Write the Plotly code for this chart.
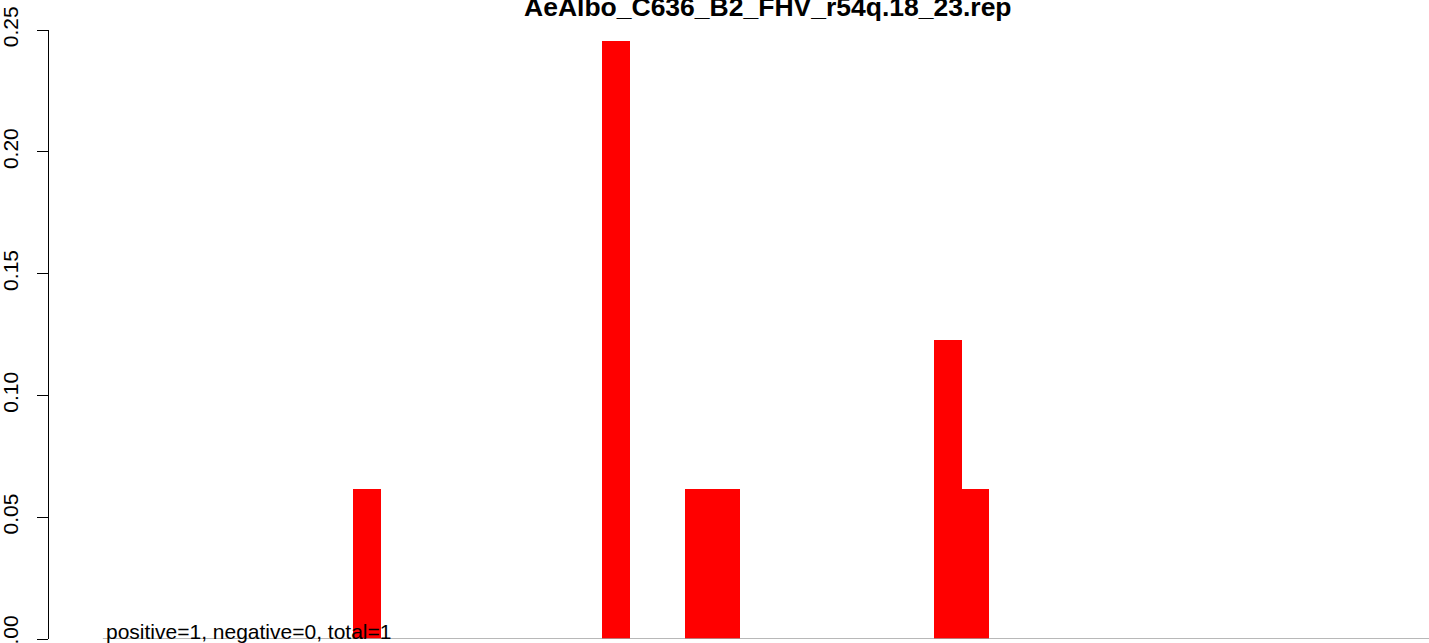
import plotly.graph_objects as go

# bar slots (0-based position along x) and their fractions
positions = [10, 19, 22, 23, 31, 32]
fractions = [0.0615, 0.2455, 0.0615, 0.0615, 0.1227, 0.0615]

title_text = "AeAlbo_C636_B2_FHV_r54q.18_23.rep"
note_text = "positive=1, negative=0, total=1"
y_ticks = [0, 0.05, 0.10, 0.15, 0.20, 0.25]
y_labels = ["0.00", "0.05", "0.10", "0.15", "0.20", "0.25"]

fig = go.Figure()
fig.add_trace(go.Bar(
    x=positions,
    y=fractions,
    width=1,
    marker=dict(color="#ff0000", line=dict(width=0)),
    showlegend=False,
))

# grey baseline under the bars
fig.add_shape(type="line", xref="paper", yref="y",
              x0=0.039, x1=1, y0=0, y1=0,
              line=dict(color="#a0a0a0", width=1.5), layer="above")

fig.add_annotation(text=note_text, xref="paper", yref="y",
                   x=0.0399, y=0, xanchor="left", yanchor="bottom",
                   yshift=-6, showarrow=False,
                   font=dict(size=21, color="black"))

fig.add_annotation(text="<b>" + title_text + "</b>", xref="paper", yref="paper",
                   x=(768 - 49) / 1380, y=1, xanchor="center", yanchor="bottom",
                   yshift=6, showarrow=False,
                   font=dict(size=26.5, color="black"))

fig.update_xaxes(range=[-1.487, 48.39], visible=False)
fig.update_yaxes(range=[0, 0.25], tickvals=y_ticks, ticktext=y_labels,
                 tickangle=-90, ticks="outside", ticklen=11, tickwidth=1.3,
                 tickcolor="black", showline=True, linecolor="black",
                 linewidth=1.3, showgrid=False, zeroline=False,
                 ticklabelstandoff=10, automargin=False,
                 ticklabeloverflow="allow",
                 tickfont=dict(size=21, color="black"))

fig.update_layout(
    width=1429, height=643,
    margin=dict(l=49, r=0, t=30, b=4),
    plot_bgcolor="white", paper_bgcolor="white",
    font=dict(family="Liberation Sans, Arial, sans-serif"),
    bargap=0,
)

fig.write_html("out.html", config={"displayModeBar": False},
               post_script="document.body.style.margin='0';")
